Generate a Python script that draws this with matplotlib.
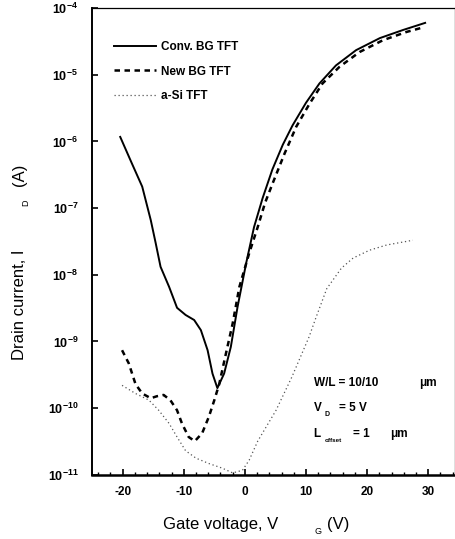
import matplotlib
matplotlib.use("Agg")
import matplotlib.pyplot as plt
from matplotlib.ticker import FixedLocator, MultipleLocator

plt.rcParams['font.family'] = ['Liberation Sans', 'DejaVu Sans']
plt.rcParams['mathtext.fontset'] = 'custom'
plt.rcParams['mathtext.rm'] = 'Liberation Sans:bold'
plt.rcParams['mathtext.bf'] = 'Liberation Sans:bold'

# Conv. BG TFT (solid)
vg_conv = [-20.4, -18.5, -16.8, -15.4, -14.6, -13.8, -12.4, -11.1, -9.7, -8.3, -7.2, -6.1, -5.3, -4.5,
           -3.4, -2.3, -1.2, 0.2, 1.5, 2.9, 4.5, 6.2, 7.8, 10.0, 12.2, 14.9, 18.2, 22.1, 25.9, 29.5]
id_conv = [1.17e-6, 4.7e-7, 2.1e-7, 6.6e-8, 3.0e-8, 1.32e-8, 6.6e-9, 3.2e-9, 2.5e-9, 2.1e-9, 1.48e-9,
           7.4e-10, 3.3e-10, 2.0e-10, 3.3e-10, 8.3e-10, 3.3e-9, 1.48e-8, 5.2e-8, 1.41e-7, 3.8e-7,
           8.9e-7, 1.74e-6, 3.8e-6, 7.4e-6, 1.38e-5, 2.34e-5, 3.55e-5, 4.7e-5, 6.0e-5]

# New BG TFT (dashed)
vg_new = [-20.1, -19.0, -17.9, -16.8, -15.4, -14.4, -13.3, -12.2, -11.1, -10.3, -9.2, -8.2, -7.0,
          -5.9, -5.0, -4.2, -3.1, -2.0, -0.9, 0.7, 2.1, 3.3, 4.5, 6.5, 8.4, 10.6, 12.7, 15.5, 18.8,
          22.6, 26.5, 29.4]
id_new = [7.4e-10, 4.7e-10, 2.3e-10, 1.66e-10, 1.41e-10, 1.51e-10, 1.58e-10, 1.32e-10, 9.3e-11,
          5.9e-11, 3.7e-11, 3.2e-11, 4.2e-11, 7.4e-11, 1.32e-10, 2.3e-10, 6.6e-10, 1.86e-9, 6.6e-9,
          2.1e-8, 5.2e-8, 1.2e-7, 2.3e-7, 6.6e-7, 1.66e-6, 3.7e-6, 7.4e-6, 1.32e-5, 2.2e-5,
          3.3e-5, 4.4e-5, 5.2e-5]

# a-Si TFT (dotted)
vg_asi = [-20.1, -17.9, -15.7, -14.1, -12.4, -11.1, -9.7, -8.0, -5.9, -3.7, -2.0, -0.4, 0.7, 2.1,
          5.1, 7.7, 10.5, 11.6, 13.4, 15.8, 17.7, 20.4, 23.2, 27.5]
id_asi = [2.2e-10, 1.66e-10, 1.32e-10, 9.3e-11, 5.9e-11, 3.7e-11, 2.3e-11, 1.78e-11, 1.48e-11,
          1.26e-11, 1.07e-11, 1.17e-11, 1.66e-11, 3.2e-11, 9.3e-11, 2.95e-10, 1.17e-9, 2.24e-9,
          6.2e-9, 1.26e-8, 1.78e-8, 2.34e-8, 2.8e-8, 3.3e-8]

x_ticks = [-20, -10, 0, 10, 20, 30]
y_exps = [-11, -10, -9, -8, -7, -6, -5, -4]

fig = plt.figure(figsize=(4.56, 5.39), dpi=100)
ax = fig.add_axes([0.202, 0.119, 0.796, 0.866])

ax.plot(vg_conv, id_conv, color='black', lw=1.4, ls='-', label='Conv. BG TFT')
ax.plot(vg_new, id_new, color='black', lw=1.8, ls=(0, (2.2, 1.8)), label='New BG TFT')
ax.plot(vg_asi, id_asi, color='#555555', lw=0.9, ls=(0, (1, 2.2)), label='a-Si TFT')

ax.set_yscale('log')
ax.set_xlim(-25, 34.4)
ax.set_ylim(1e-11, 1e-4)

ax.xaxis.set_major_locator(FixedLocator(x_ticks))
ax.xaxis.set_minor_locator(MultipleLocator(2))
ax.set_xticklabels([str(t) for t in x_ticks], fontweight='bold', fontsize=8.5)
ax.yaxis.set_major_locator(FixedLocator([10.0 ** e for e in y_exps]))
ax.yaxis.set_minor_locator(FixedLocator([]))
ax.set_yticklabels([r'$\mathbf{10^{%d}}$' % e for e in y_exps], fontsize=9)

ax.tick_params(axis='both', which='major', direction='in', length=4, width=1.2, pad=8)
ax.tick_params(axis='x', which='minor', direction='in', length=2.5, width=1.0)
ax.tick_params(axis='y', which='major', pad=10)
ax.spines['bottom'].set_linewidth(1.8)
ax.spines['left'].set_linewidth(1.4)
ax.spines['top'].set_linewidth(0.9)
ax.spines['right'].set_linewidth(0.9)

leg = ax.legend(loc='upper left', bbox_to_anchor=(0.03, 0.952), frameon=False,
                handlelength=3.6, handletextpad=0.45, labelspacing=1.05,
                prop={'weight': 'bold', 'size': 8.5})

ax.text(0.61, 0.191, 'W/L = 10/10', transform=ax.transAxes, fontsize=8.5, fontweight='bold')
ax.text(0.90, 0.191, 'μm', transform=ax.transAxes, fontsize=8.5, fontweight='bold')
ax.text(0.61, 0.136, 'V', transform=ax.transAxes, fontsize=8.5, fontweight='bold')
ax.text(0.64, 0.126, 'D', transform=ax.transAxes, fontsize=5, fontweight='bold')
ax.text(0.68, 0.136, '= 5 V', transform=ax.transAxes, fontsize=8.5, fontweight='bold')
ax.text(0.61, 0.081, 'L', transform=ax.transAxes, fontsize=8.5, fontweight='bold')
ax.text(0.64, 0.071, 'offset', transform=ax.transAxes, fontsize=4.5, fontweight='bold')
ax.text(0.72, 0.081, '= 1', transform=ax.transAxes, fontsize=8.5, fontweight='bold')
ax.text(0.82, 0.081, 'μm', transform=ax.transAxes, fontsize=8.5, fontweight='bold')

# axis labels with widely spaced subscripts, as in the original
fig.text(163 / 456, 1 - 525 / 539, 'Gate voltage, V', fontsize=12, va='center', ha='left')
fig.text(318 / 456, 1 - 532 / 539, 'G', fontsize=6.5, va='center', ha='center')
fig.text(327 / 456, 1 - 525 / 539, '(V)', fontsize=12, va='center', ha='left')

fig.text(20 / 456, 1 - 360 / 539, 'Drain current, I', fontsize=12, rotation=90, va='bottom', ha='center')
fig.text(26 / 456, 1 - 203 / 539, 'D', fontsize=6.5, rotation=90, va='center', ha='center')
fig.text(20 / 456, 1 - 186 / 539, '(A)', fontsize=12, rotation=90, va='bottom', ha='center')

fig.savefig('out.png', dpi=100)
